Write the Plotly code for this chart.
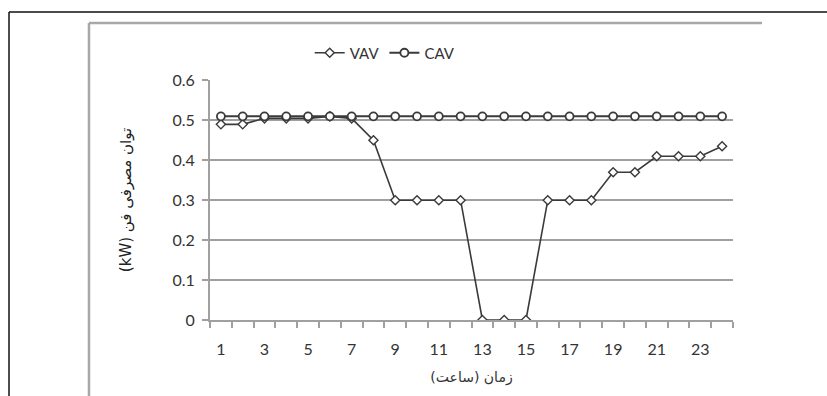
import plotly.graph_objects as go

hours = list(range(1, 25))
vav = [0.49, 0.49, 0.505, 0.505, 0.505, 0.51, 0.505, 0.45, 0.30, 0.30, 0.30, 0.30,
       0.0, 0.0, 0.0, 0.30, 0.30, 0.30, 0.37, 0.37, 0.41, 0.41, 0.41, 0.435]
cav = [0.51] * 24
x_tick_labels = [str(h) for h in range(1, 24, 2)]
y_ticks = [0, 0.1, 0.2, 0.3, 0.4, 0.5, 0.6]

FONT = "Lato, 'DejaVu Sans', sans-serif"
AFONT = "'DejaVu Sans', sans-serif"
TXT = "#333333"

fig = go.Figure()
fig.add_trace(go.Scatter(
    x=hours, y=vav, name="VAV", mode="lines+markers",
    line=dict(color="#3a3a3a", width=1.6),
    marker=dict(symbol="diamond", size=7, color="white",
                line=dict(color="#3a3a3a", width=1.4)),
))
fig.add_trace(go.Scatter(
    x=hours, y=cav, name="CAV", mode="lines+markers",
    line=dict(color="#3a3a3a", width=2),
    marker=dict(symbol="circle", size=8, color="white",
                line=dict(color="#3a3a3a", width=1.8)),
))

shapes = []
def pline(x0, y0, x1, y1, color, width):
    shapes.append(dict(type="line", xref="paper", yref="paper", x0=x0, y0=y0,
                       x1=x1, y1=y1, line=dict(color=color, width=width)))

# outer black border (top and left)
pline(-0.3843, 1.2833, 1.20, 1.2833, "#111111", 1.5)
pline(-0.3843, 1.2833, -0.3843, -0.35, "#111111", 1.5)
# inner gray frame (top and left)
pline(-0.2314, 1.2375, 1.0554, 1.2375, "#a8a8a8", 2.5)
pline(-0.2314, 1.2375, -0.2314, -0.32, "#a8a8a8", 2.5)

fig.update_layout(
    width=827, height=396,
    margin=dict(l=210, r=94, t=80, b=76),
    paper_bgcolor="white", plot_bgcolor="white",
    font=dict(family=FONT, color=TXT, size=16),
    shapes=shapes,
    showlegend=True,
    legend=dict(orientation="h", x=0.335, y=1.1125, xanchor="center",
                yanchor="middle", font=dict(size=15, color=TXT),
                bgcolor="rgba(0,0,0,0)", itemwidth=30, tracegroupgap=0),
)

fig.update_xaxes(
    range=[0.5, 24.5],
    tickmode="array", tickvals=list(range(1, 24, 2)), ticktext=x_tick_labels,
    ticks="", showgrid=False, zeroline=False,
    showline=True, linecolor="#a0a0a0", linewidth=2,
    ticklabelstandoff=14,
    tickfont=dict(size=16, color=TXT),
    minor=dict(ticks="outside", tick0=0.5, dtick=1, ticklen=6,
               tickcolor="#a0a0a0", tickwidth=1.5, showgrid=False),
    title=dict(text="زمان (ساعت)", font=dict(family=AFONT, size=14, color=TXT), standoff=15),
)
fig.update_yaxes(
    range=[0, 0.601],
    tickmode="array", tickvals=y_ticks, ticktext=["0", "0.1", "0.2", "0.3", "0.4", "0.5", "0.6"],
    ticks="outside", ticklen=6, tickcolor="#a0a0a0", tickwidth=1.5,
    showgrid=True, gridcolor="#a0a0a0", gridwidth=1.8,
    zeroline=False, showline=True, linecolor="#a0a0a0", linewidth=2,
    ticklabelstandoff=4,
    tickfont=dict(size=16, color=TXT),
    title=dict(text="(kW) توان مصرفی فن", font=dict(family=AFONT, size=15, color="#222222"), standoff=37),
)

fig.write_html("out.html")
